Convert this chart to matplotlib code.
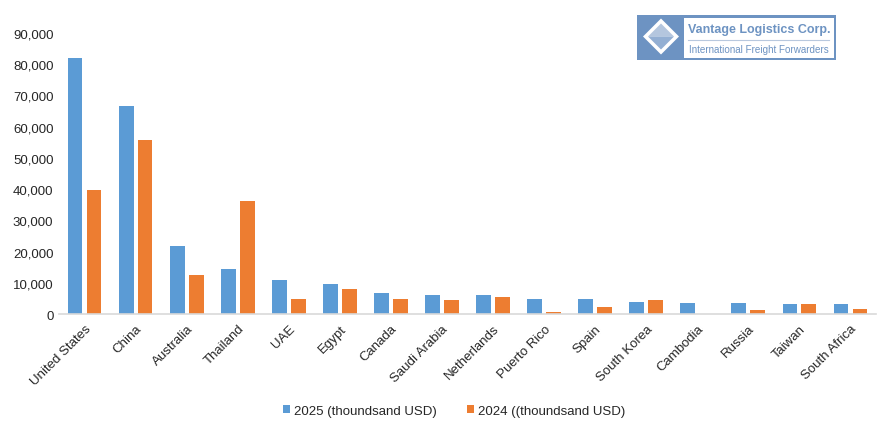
import numpy as np
import matplotlib
matplotlib.use("Agg")
import matplotlib.pyplot as plt
from matplotlib.patches import Rectangle, Polygon
from matplotlib.ticker import FuncFormatter

plt.rcParams['font.family'] = ['Liberation Sans', 'DejaVu Sans']

countries = ["United States", "China", "Australia", "Thailand", "UAE", "Egypt",
             "Canada", "Saudi Arabia", "Netherlands", "Puerto Rico", "Spain",
             "South Korea", "Cambodia", "Russia", "Taiwan", "South Africa"]
val_2025 = [82000, 66600, 21800, 14400, 10900, 9600, 6700, 6100, 6100, 4800,
            4800, 3800, 3500, 3500, 3200, 3200]
val_2024 = [39700, 55700, 12500, 36200, 4800, 8000, 4800, 4500, 5400, 600,
            2200, 4500, 0, 1200, 3200, 1600]
label_2025 = "2025 (thoundsand USD)"
label_2024 = "2024 ((thoundsand USD)"

blue = "#5B9BD5"
orange = "#ED7D31"
logo_blue = "#6d93c2"

W, H = 882, 427
fig = plt.figure(figsize=(W / 100, H / 100), dpi=100)
ax = fig.add_axes([59 / W, 1 - 315 / H, (876 - 59) / W, (315 - 34) / H])

x = np.arange(len(countries))
bw = 0.29
ax.bar(x - 0.186, val_2025, width=bw, color=blue, label=label_2025)
ax.bar(x + 0.186, val_2024, width=bw, color=orange, label=label_2024)

ax.set_xlim(-0.5, len(countries) - 0.5)
ax.set_ylim(0, 90000)
ax.set_yticks(np.arange(0, 90001, 10000))
ax.yaxis.set_major_formatter(FuncFormatter(lambda v, p: f"{int(v):,}"))
ax.set_xticks(x)
ax.set_xticklabels(countries, rotation=45, ha='right', rotation_mode='anchor')
ax.tick_params(axis='both', length=0, labelsize=9.5, colors='#262626')
ax.tick_params(axis='x', pad=6)
ax.tick_params(axis='y', pad=4)
for s in ['top', 'right', 'left']:
    ax.spines[s].set_visible(False)
ax.spines['bottom'].set_color('#d9d9d9')
ax.spines['bottom'].set_linewidth(1.2)

leg = fig.legend(loc='center', bbox_to_anchor=(454 / W, 1 - 412 / H), ncol=2,
                 frameon=False, fontsize=9.5, handlelength=0.55, handleheight=0.55,
                 handletextpad=0.3, columnspacing=2.3)
for t in leg.get_texts():
    t.set_color('#262626')

# logo box in the top right corner
def fx(px):
    return px / W

def fy(py):
    return 1 - py / H

fig.patches.append(Rectangle((fx(637), fy(61)), fx(836) - fx(637), fy(16) - fy(61),
                             transform=fig.transFigure, facecolor=logo_blue,
                             edgecolor='none', zorder=5))
fig.patches.append(Rectangle((fx(684), fy(58.5)), fx(833.5) - fx(684), fy(18.5) - fy(58.5),
                             transform=fig.transFigure, facecolor='white',
                             edgecolor='none', zorder=6))
cx, cy, r = 661, 37.5, 18
fig.patches.append(Polygon([(fx(cx), fy(cy - r)), (fx(cx + r), fy(cy)),
                            (fx(cx), fy(cy + r)), (fx(cx - r), fy(cy))],
                           closed=True, transform=fig.transFigure,
                           facecolor='white', edgecolor='none', zorder=6))
r2 = 13
fig.patches.append(Polygon([(fx(cx), fy(cy - r2)), (fx(cx + r2), fy(cy)),
                            (fx(cx - r2), fy(cy))],
                           closed=True, transform=fig.transFigure,
                           facecolor='#b4c6de', edgecolor='none', zorder=7))
fig.patches.append(Polygon([(fx(cx - r2), fy(cy)), (fx(cx + r2), fy(cy)),
                            (fx(cx), fy(cy + r2))],
                           closed=True, transform=fig.transFigure,
                           facecolor='#93afd3', edgecolor='none', zorder=7))
fig.lines.append(plt.Line2D([fx(688), fx(829)], [fy(41), fy(41)],
                            transform=fig.transFigure, color='#b8c8de',
                            linewidth=0.8, zorder=7))
fig.text(fx(688), fy(30.5), "Vantage Logistics Corp.", fontsize=9.0,
         fontweight='bold', color=logo_blue, va='center', ha='left', zorder=8)
fig.text(fx(689), fy(50), "International Freight Forwarders", fontsize=7.1,
         color=logo_blue, va='center', ha='left', zorder=8)

fig.savefig("out.png", dpi=100)
